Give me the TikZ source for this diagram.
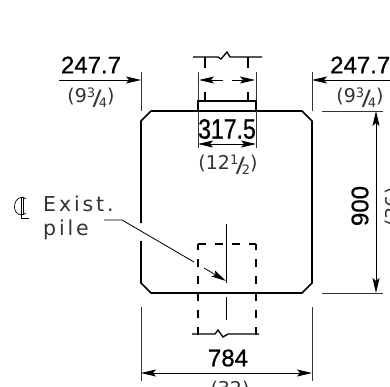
\documentclass[tikz,border=0pt]{standalone}
\usepackage{fontspec}
\usepackage{graphicx}
\setmainfont{DejaVu Sans}
\usetikzlibrary{arrows.meta}
\newfontfamily\dimfont{Liberation Sans}[FakeBold=0.8]
\newfontfamily\thinfont{DejaVu Sans}[LetterSpace=14]
\newcommand{\myfrac}[2]{\raisebox{5pt}{\fontsize{13}{13}\selectfont #1}\kern-2.5pt\raisebox{-2.5pt}{\scalebox{1.35}[1.05]{\fontsize{20}{20}\selectfont /}}\kern-3pt\raisebox{-5pt}{\fontsize{13}{13}\selectfont #2}}
\tikzset{
 x=1pt,y=-1pt,
 wall/.style={line width=1.6pt,line join=miter},
 thinln/.style={line width=0.8pt,black!80},
 hid/.style={line width=1.4pt,dash pattern=on 8pt off 9pt},
 brk/.style={line width=1.3pt},
 dimtip/.style={-{Stealth[length=15pt,width=7pt,inset=3pt]}},
 dimboth/.style={{Stealth[length=15pt,width=7pt,inset=3pt]}-{Stealth[length=15pt,width=7pt,inset=3pt]}},
 bigt/.style={inner sep=0pt,font=\dimfont\fontsize{24}{24}\selectfont},
 smallt/.style={inner sep=0pt,black!80,font=\fontsize{19}{19}\selectfont},
 leadt/.style={inner sep=0pt,align=left,black!80,font=\thinfont\fontsize{20.5}{24}\selectfont}
}
\begin{document}
\begin{tikzpicture}
\useasboundingbox (0,0) rectangle (390,387);
\clip (0,0) rectangle (390,387);
% reference points
\coordinate (tl) at (141,111); \coordinate (tr) at (312,111);
\coordinate (bl) at (141,293); \coordinate (br) at (312,293);
\coordinate (sl) at (198,111); \coordinate (sr) at (256,111);
% footing outline
\draw[wall] (151,111) -- (302,111) -- (312,121) -- (312,283) -- (302,293) -- (151,293) -- (141,283) -- (141,241);
\draw[wall] (141,223) -- (141,121) -- (151,111);
% column stub
\draw[wall] (sl) -- (198,101) -- (256,101) -- (sr);
\draw[brk] (193,57) -- (218,57) -- (221,59) -- (227,52) -- (230,57) -- (262,57);
\draw[brk] (205,57) -- (205,68) (248,57) -- (248,68);
\draw[brk] (205,92) -- (205,101) (248,92) -- (248,101);
% column width dimension
\draw[thinln] (198,72) -- (198,101) (256,72) -- (256,101);
\coordinate (cd1) at (199,80); \coordinate (cd2) at (255,80);
\draw[thinln,dimtip,black] (223,80) -- (cd1);
\draw[thinln,dimtip,black] (232,80) -- (cd2);
% pile
\draw[hid] (198,244) -- (256,244);
\draw[hid] (198,335) -- (198,244);
\draw[hid] (256,335) -- (256,244);
\draw[brk] (192,334) -- (215,334) -- (218,330) -- (223,337) -- (228,334) -- (259,334);
\draw[line width=.9pt] (226,224) -- (226,283) (226,297) -- (226,320);
% leader
\coordinate (la) at (104,220); \coordinate (lb) at (122,220); \coordinate (lc) at (226,281);
\draw[line width=.8pt] (la) -- (lb) -- (194,262);
\draw[line width=.8pt,dimtip] (204,268) -- (lc);
% left and right top dimensions
\draw[thinln] (141,72) -- (141,111) (312,72) -- (312,111);
\coordinate (ld) at (59,80); \coordinate (le) at (141,80);
\coordinate (rd) at (390,80); \coordinate (re) at (312,80);
\draw[thinln,dimtip,black] (ld) -- (le);
\draw[thinln,dimtip,black] (rd) -- (re);
\node[bigt] (t1) at (91,65) {247.7};
\node[smallt] (t1b) at (91,98) {(9\myfrac{3}{4})};
\node[bigt,anchor=west] (t2) at (330,65) {247.7};
\node[smallt] (t2b) at (360,98) {(9\myfrac{3}{4})};
% 317.5
\draw[thinln] (sl) -- (198,148) (sr) -- (256,148);
\coordinate (m1) at (198,144); \coordinate (m2) at (256,144);
\draw[thinln,dimboth,black] (m1) -- (m2);
\node[bigt] (t3) at (227,129) {\scalebox{.96}[1.17]{317.5}};
\node[smallt] (t3b) at (228,165) {(12\myfrac{1}{2})};
% 900
\draw[thinln] (322,111) -- (383,111) (322,293) -- (383,293);
\coordinate (v1) at (376,111); \coordinate (v2) at (376,293);
\draw[thinln,dimboth,black] (v1) -- (v2);
\node[bigt,rotate=90] (t4) at (360,206) {900};
\node[smallt,rotate=90,anchor=north] (t4b) at (385,207) {(36)};
% 784
\draw[thinln] (141,307) -- (141,381) (312,307) -- (312,381);
\coordinate (h1) at (141,373); \coordinate (h2) at (312,373);
\draw[thinln,dimboth,black] (h1) -- (h2);
\node[bigt] (t5) at (228,358) {784};
\node[smallt,anchor=north] (t5b) at (230,381) {(32)};
% label
\node[leadt,anchor=north west] (t6) at (43,196) {Exist.\\pile};
\draw[line width=.7pt] (21,197) -- (21,218) -- (29,218);
\draw[line width=.7pt] (23,197) -- (23,214);
\draw[line width=.7pt] (26,199) .. controls (24,197) and (19,196) .. (16,201) .. controls (14,205) and (14,209) .. (16,212) .. controls (19,216) and (24,215) .. (26,213);
\end{tikzpicture}
\end{document}
